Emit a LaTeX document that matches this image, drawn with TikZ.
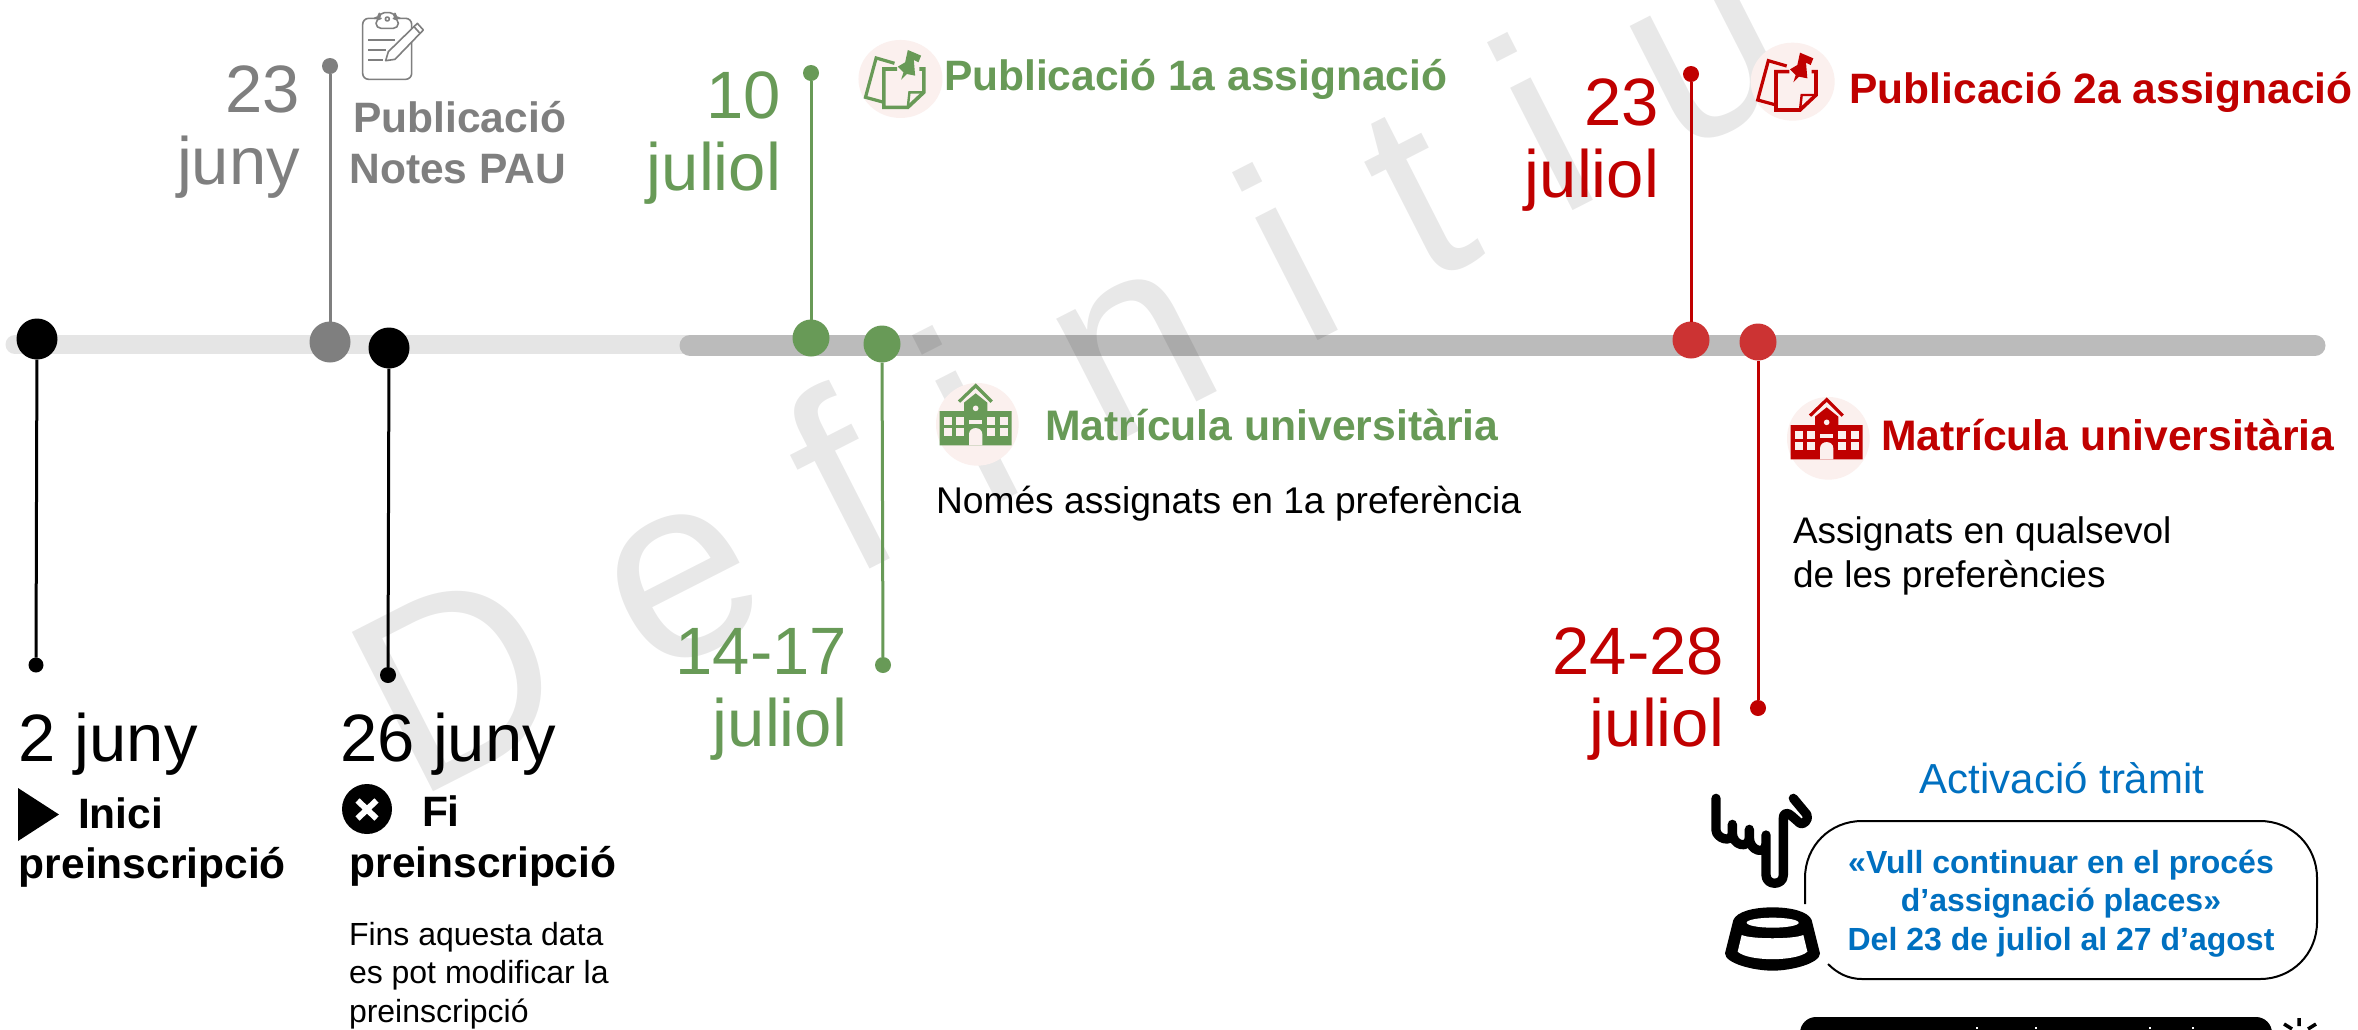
\documentclass[tikz,border=0pt]{standalone}
\usepackage{fontspec}
\setmainfont{Liberation Sans}
\newfontfamily\wmfont[LetterSpace=30]{Liberation Sans}
\definecolor{cgray}{HTML}{7F7F7F}
\definecolor{cgreen}{HTML}{689A57}
\definecolor{cred}{HTML}{C00000}
\definecolor{credc}{HTML}{CC3333}
\definecolor{cblue}{HTML}{0070C0}
\definecolor{chalo}{HTML}{FBF0EE}
\newcommand\fsz[2]{\fontsize{#1}{#2}\selectfont}
% note with pushpin; #1,#2 = origin, #3 = colour
\newcommand\noteicon[3]{%
\begin{scope}[shift={(#1,#2)},scale=1/3,line join=miter]
 \fill[chalo] (128,155) ellipse [x radius=126,y radius=117];
 \draw[#3,line width=3.2] (110,108) -- (55,92) -- (23,210) -- (78,225);
 \draw[#3,line width=3.6] (118,125) -- (78,125) -- (78,240) -- (150,240) -- (198,195) -- (198,125) -- (185,125);
 \draw[#3,line width=2.4] (150,240) -- (155,195) -- (198,195);
 \fill[#3] (150,68) -- (190,85) -- (182,105) -- (168,98) -- (172,145) -- (147,140) -- (130,157) -- (137,135) -- (120,118) -- (142,105) -- cycle;
\end{scope}}
% school building; #1,#2 = origin, #3 = colour
\newcommand\schoolicon[3]{%
\begin{scope}[shift={(#1,#2)},scale=1/3,line join=miter]
 \fill[chalo] (145,145) circle [radius=124];
 \draw[#3,line width=3.2] (90,77) -- (140,29) -- (188,77);
 \fill[#3] (32,105) -- (105,105) -- (105,80) -- (140,52) -- (175,80) -- (175,105) -- (248,105) -- (248,208) -- (32,208) -- cycle;
 \foreach \wx in {45,80,175,212}{
  \fill[chalo] (\wx,122) rectangle ++(24,24);
  \fill[chalo] (\wx,157) rectangle ++(24,24);}
 \fill[chalo] (140,97) circle [radius=8.5];
 \fill[chalo] (120,133) rectangle (160,143);
 \fill[chalo] (120,208) -- (120,175) .. controls (120,150) and (160,150) .. (160,175) -- (160,208) -- cycle;
\end{scope}}
\tikzset{
 x=1pt,y=-1pt,inner sep=0pt,outer sep=0pt,
 bigdot/.style={circle,minimum size=#1,draw=none},
 tipdot/.style={circle,minimum size=16,draw=none},
 stem/.style={line width=3},
 date/.style={font=\fsz{67}{71.5}},
 head/.style={font=\bfseries\fsz{42.5}{51}},
 headm/.style={font=\bfseries\fsz{42.7}{51}},
 body/.style={font=\fsz{37}{44}},
 small/.style={font=\fsz{32}{38.5}},
 bar/.style={line width=#1,line cap=round},
}
\begin{document}
\begin{tikzpicture}
\useasboundingbox (0,0) rectangle (2358,1029);
\fill[white] (0,0) rectangle (2358,1029);
% bars
\draw[bar=19,color=black!10] (15,344.5) -- (690,344.5);
\draw[bar=21,color=black!26.5] (690,345.5) -- (2315,345.5);
% watermark
\node[anchor=base west,rotate=27,text=black,text opacity=0.09] (wm) at (414,801) {\wmfont\fontsize{260}{260}\selectfont Definitiu};
% big dots and stems
\node[bigdot=41,fill=black] (a1) at (37,339) {};
\node[tipdot,fill=black,minimum size=15] (a2) at (36,665) {};
\draw[stem,black] (a1) -- (a2);
\node[bigdot=41,fill=cgray] (b1) at (330,342) {};
\node[tipdot,fill=cgray] (b2) at (330,66) {};
\draw[stem,cgray] (b1) -- (b2);
\node[bigdot=41,fill=black] (c1) at (389,348) {};
\node[tipdot,fill=black] (c2) at (388,675) {};
\draw[stem,black] (c1) -- (c2);
\node[bigdot=37,fill=cgreen] (d1) at (811,338) {};
\node[tipdot,fill=cgreen] (d2) at (811,73) {};
\draw[stem,cgreen] (d1) -- (d2);
\node[bigdot=37,fill=cgreen] (e1) at (882,344) {};
\node[tipdot,fill=cgreen] (e2) at (883,665) {};
\draw[stem,cgreen] (e1) -- (e2);
\node[bigdot=37,fill=credc] (f1) at (1691,340) {};
\node[tipdot,fill=cred] (f2) at (1691,74) {};
\draw[stem,cred] (f1) -- (f2);
\node[bigdot=37,fill=credc] (g1) at (1758,342) {};
\node[tipdot,fill=cred] (g2) at (1758,708) {};
\draw[stem,cred] (g1) -- (g2);
% dates (the anchor is the baseline of the last line)
\node[date,text=cgray,align=right,anchor=base east] (t23j) at (300,184) {23\\juny};
\node[date,text=cgreen,align=right,anchor=base east] (t10) at (781,190) {10\\juliol};
\node[date,text=cred,align=right,anchor=base east] (t23r) at (1659,197) {23\\juliol};
\node[date,text=cgreen,align=right,anchor=base east] (t14) at (847,746) {14-17\\juliol};
\node[date,text=cred,align=right,anchor=base east] (t24) at (1724,746) {24-28\\juliol};
\node[date,anchor=base west] (t2) at (19,761) {2 juny};
\node[date,anchor=base west] (t26) at (340,761) {26 juny};
% gray publication
\begin{scope}[shift={(340,0)},scale=1/3,cgray,line width=1.6,line join=round]
 \draw[rounded corners=6] (108,55) -- (68,55) -- (68,238) -- (215,238) -- (215,55) -- (175,55);
 \draw[rounded corners=5] (108,85) -- (108,55) -- (118,55) -- (118,38) -- (165,38) -- (165,55) -- (175,55) -- (175,85) -- cycle;
 \draw (142,57) circle [radius=6];
 \draw (85,120) -- (165,120) (85,150) -- (138,150) (85,180) -- (128,180);
 \draw[fill=white] (145,155) -- (232,70) -- (250,90) -- (165,178) -- (137,182) -- cycle;
 \draw (222,80) -- (240,100);
\end{scope}
\node[head,text=cgray,align=right,anchor=base east] (tpub) at (566,183) {Publicació\\Notes PAU};
% first assignment
\noteicon{857.8}{27.3}{cgreen}
\node[head,text=cgreen,anchor=base west] (tp1) at (944,90) {Publicació 1a assignació};
\schoolicon{929}{376}{cgreen}
\node[headm,text=cgreen,anchor=base west] (tm1) at (1045,440) {Matrícula universitària};
\node[body,anchor=base west,font=\fsz{37.2}{44}] (tn1) at (936,513) {Només assignats en 1a preferència};
% second assignment
\noteicon{1750}{30}{cred}
\node[head,text=cred,anchor=base west] (tp2) at (1849.5,103) {Publicació 2a assignació};
\schoolicon{1780}{390}{cred}
\node[headm,text=cred,anchor=base west] (tm2) at (1881,450) {Matrícula universitària};
\node[body,anchor=base west,align=left] (tn2) at (1793,587) {Assignats en qualsevol\\de les preferències};
% start / end
\fill[black] (18,788) -- (59,814.5) -- (18,841) -- cycle;
\node[head,anchor=base west] (ti) at (78,828) {Inici};
\node[head,anchor=base west] (tip) at (19,878) {preinscripció};
\fill[black] (367,809) circle [radius=25];
\draw[white,line width=6] (357.5,800.5) -- (376.5,818.5) (376.5,800.5) -- (357.5,818.5);
\node[head,anchor=base west] (tf) at (422,826) {Fi};
\node[head,anchor=base west] (tfp) at (349.5,877) {preinscripció};
\node[small,anchor=base west,align=left] (tfn) at (349,1022) {Fins aquesta data\\es pot modificar la\\preinscripció};
% activation
\node[text=cblue,anchor=base,font=\fsz{42}{50}] (tact) at (2062,793) {Activació tràmit};
\draw[line width=2] (1805,904) -- (1805,878) .. controls (1805,846) and (1830,821) .. (1862,821) -- (2260,821) .. controls (2292,821) and (2317,846) .. (2317,878) -- (2317,922) .. controls (2317,954) and (2292,979) .. (2260,979) -- (1862,979) .. controls (1848,979) and (1837,973) .. (1828,964);
\node[text=cblue,anchor=base,align=center,font=\bfseries\fsz{32}{38.5}] (tbox) at (2061,950) {«Vull continuar en el procés\\d’assignació places»\\Del 23 de juliol al 27 d’agost};
% hand and button
\begin{scope}[shift={(1690,780)},scale=1/3]
 \draw[black,line width=9.3,line cap=round,line join=round]
  (78,55) -- (78,150) .. controls (78,175) and (127,192) .. (127,158) -- (127,133)
  (127,158) .. controls (127,198) and (178,208) .. (178,172) -- (178,148)
  (178,172) .. controls (178,215) and (228,225) .. (228,190)
  (228,165) -- (228,285)
  .. controls (228,318) and (280,318) .. (280,285) -- (280,115)
  .. controls (280,95) and (295,98) .. (305,108) -- (330,130)
  .. controls (338,137) and (360,118) .. (350,103) -- (310,55);
 \fill[black] (248,382) .. controls (190,382) and (140,395) .. (130,420) -- (105,520) .. controls (105,550) and (190,572) .. (248,572) .. controls (305,572) and (390,550) .. (390,520) -- (365,420) .. controls (355,395) and (305,382) .. (248,382) -- cycle;
 \fill[white] (248,428) ellipse [x radius=78,y radius=15];
 \fill[white] (155,465) .. controls (185,478) and (310,478) .. (340,465) -- (352,515) .. controls (320,545) and (175,545) .. (143,515) -- cycle;
\end{scope}
% cut-off black bar
\fill[black,rounded corners=16] (1800,1060) rectangle (2272,1017);
\foreach \tx in {1977,2036,2150,2193}{\fill[white] (\tx-1,1026.5) rectangle (\tx+1,1029);}
\draw[black,line width=3.5] (2299,1018) -- (2299,1026) (2284,1024) -- (2292,1029) (2316,1024) -- (2308,1029);
\end{tikzpicture}
\end{document}
